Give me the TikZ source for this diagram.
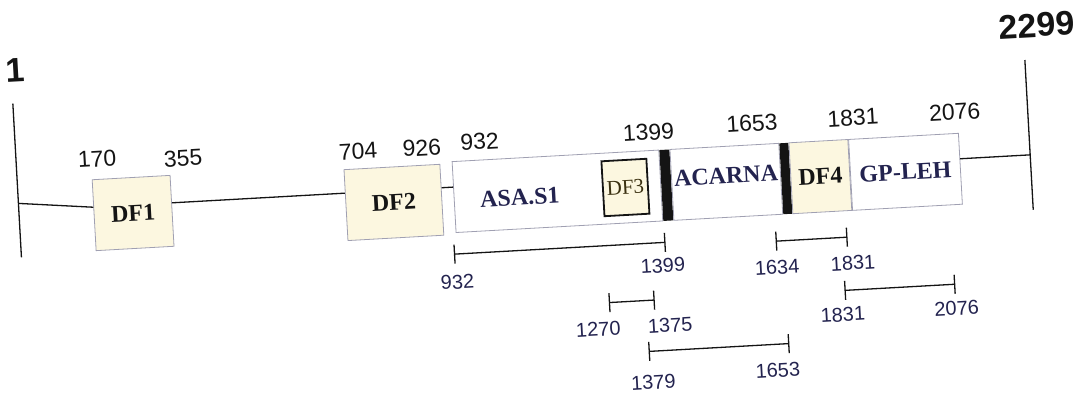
\documentclass[tikz,border=0pt]{standalone}
\usepackage{fontspec}
\setmainfont{Liberation Serif}
\newfontfamily\numfont{Liberation Sans}
\usetikzlibrary{arrows.meta,positioning,calc}
\definecolor{ink}{HTML}{141414}
\definecolor{navy}{HTML}{23234F}
\definecolor{cream}{HTML}{FCF7E0}
\definecolor{edge}{HTML}{A0A0B2}
\definecolor{olive}{HTML}{3A3010}
\tikzset{
  axis/.style={line width=1.3pt, draw=ink},
  dfbox/.style={draw=edge, line width=0.8pt, fill=cream, minimum height=71pt, inner sep=0pt, font=\bfseries\fontsize{24}{28}\selectfont, text=ink},
  segment/.style={draw=edge, line width=0.8pt, fill=white, minimum height=71pt, inner sep=0pt, font=\bfseries\fontsize{24}{28}\selectfont, text=navy},
  segtext/.style={font=\bfseries\fontsize{24}{28}\selectfont, text=navy},
  divider/.style={fill=ink, minimum height=71pt, inner sep=0pt},
  dfsmall/.style={draw=ink, line width=1.8pt, fill=cream, minimum width=45pt, minimum height=55pt, inner sep=0pt, font=\fontsize{21}{25}\selectfont, text=olive},
  poslab/.style={font=\numfont\fontsize{23}{27}\selectfont, text=ink},
  endlab/.style={font=\numfont\bfseries\fontsize{34}{40}\selectfont, text=ink},
  sublab/.style={font=\numfont\fontsize{20}{24}\selectfont, text=navy},
  span/.style={line width=1.3pt, draw=ink, {Bar[width=19pt]}-{Bar[width=19pt]}},
}
\begin{document}
\begin{tikzpicture}[x=1pt,y=1pt]
  \useasboundingbox (-545,-197) rectangle (544,200);
  \begin{scope}[rotate=3.2, transform shape]
  % ends of the protein
  \coordinate (startTop) at (-526,126);
  \coordinate (startBot) at (-526,-28);
  \coordinate (endTop) at (487,113);
  \coordinate (endBot) at (487,-37);
  \draw[axis] (startTop) -- (startBot);
  \draw[axis] (endTop) -- (endBot);
  \node[endlab] (startLab) at (-522,159) {1};
  \node[endlab] (endLab) at (501,147) {2299};

  % domains
  \node[dfbox, minimum width=78pt] (dfone) at (-412,10) {DF1};
  \node[dfbox, minimum width=96pt] (dftwo) at (-151,6) {DF2};
  \node[segment, minimum width=207pt, anchor=west] (asa) at (-91,8) {};
  \node[divider, minimum width=10pt, right=0pt of asa] (barA) {};
  \node[segment, minimum width=109pt, right=0pt of barA] (acarna) {};
  \node[divider, minimum width=9pt, right=0pt of acarna] (barB) {};
  \node[dfbox, minimum width=59pt, right=0pt of barB] (dffour) {DF4};
  \node[segment, minimum width=110pt, right=0pt of dffour] (gpleh) {GP-LEH};
  \node[segtext] (asaLab) at (-25,4) {ASA.S1};
  \node[segtext] (acarnaLab) at ($(acarna)+(0,6)$) {ACARNA};
  \node[dfsmall] (dfthree) at (81,8) {DF3};

  % backbone
  \coordinate (lineL) at (-526,26);
  \coordinate (lineR) at (487,18);
  \draw[axis] (lineL) -- ($(dfone.west)+(0,8)$);
  \draw[axis] ($(dfone.east)+(0,8)$) -- ($(dftwo.west)+(0,12)$);
  \draw[axis] ($(dftwo.east)+(0,12)$) -- ($(asa.west)+(0,10)$);
  \draw[axis] ($(gpleh.east)+(0,10)$) -- (lineR);

  % positions above
  \node[poslab] (p170) at (-445,66) {170};
  \node[poslab] (p355) at (-359,62) {355};
  \node[poslab] (p704) at (-184,59) {704};
  \node[poslab] (p926) at (-120,59) {926};
  \node[poslab] (p932) at (-62,62) {932};
  \node[poslab] (p1399) at (107,62) {1399};
  \node[poslab] (p1653) at (211,65) {1653};
  \node[poslab] (p1831) at (312,65) {1831};
  \node[poslab] (p2076) at (414,65) {2076};

  % fragments below
  \coordinate (fragAL) at (-94,-49);
  \coordinate (fragAR) at (118,-49);
  \draw[span] (fragAL) -- (fragAR);
  \node[sublab] (fragALab) at (-92,-77) {932};
  \node[sublab] (fragARab) at (114,-72) {1399};

  \coordinate (fragBL) at (228,-54);
  \coordinate (fragBR) at (300,-54);
  \draw[span] (fragBL) -- (fragBR);
  \node[sublab] (fragBLab) at (228,-80) {1634};
  \node[sublab] (fragBRab) at (304,-80) {1831};

  \coordinate (fragCL) at (294,-107);
  \coordinate (fragCR) at (405,-107);
  \draw[span] (fragCL) -- (fragCR);
  \node[sublab] (fragCLab) at (291,-131) {1831};
  \node[sublab] (fragCRab) at (405,-131) {2076};

  \coordinate (fragDL) at (58,-106);
  \coordinate (fragDR) at (104,-106);
  \draw[span] (fragDL) -- (fragDR);
  \node[sublab] (fragDLab) at (46,-132) {1270};
  \node[sublab] (fragDRab) at (118,-132) {1375};

  \coordinate (fragEL) at (95,-157);
  \coordinate (fragER) at (236,-157);
  \draw[span] (fragEL) -- (fragER);
  \node[sublab] (fragELab) at (98,-188) {1379};
  \node[sublab] (fragERab) at (223,-183) {1653};
  \end{scope}
\end{tikzpicture}
\end{document}
